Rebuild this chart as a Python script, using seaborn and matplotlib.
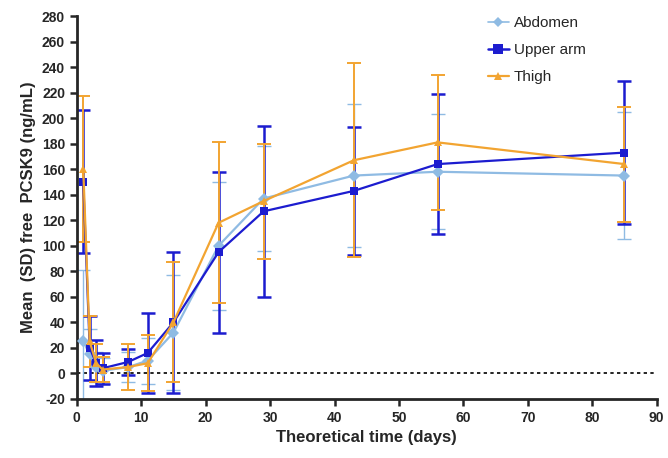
import pandas as pd
import matplotlib
matplotlib.use("Agg")
import matplotlib.pyplot as plt
import seaborn as sns

# ------------------------------------------------------------
# Data
# ------------------------------------------------------------

days = [1, 2, 3, 4, 8, 11, 15, 22, 29, 43, 56, 85]

abdomen_mean = [25, 15, 5, 2, 5, 10, 32, 100, 137, 155, 158, 155]
abdomen_sd = [56, 20, 12, 10, 12, 18, 45, 50, 41, 56, 45, 50]

upper_arm_mean = [150, 20, 8, 4, 9, 16, 40, 95, 127, 143, 164, 173]
upper_arm_sd = [56, 25, 18, 12, 10, 31, 55, 63, 67, 50, 55, 56]

thigh_mean = [160, 25, 8, 3, 5, 8, 40, 118, 135, 167, 181, 164]
thigh_sd = [57, 20, 15, 10, 18, 22, 47, 63, 45, 76, 53, 45]

sites = ["Abdomen", "Upper arm", "Thigh"]

site_colors = {
    "Abdomen": "#8fbbe3",
    "Upper arm": "#1c1ccf",
    "Thigh": "#f2a431"
}

site_markers = {
    "Abdomen": "D",
    "Upper arm": "s",
    "Thigh": "^"
}

# Build a long-form table for seaborn
df = pd.concat([
    pd.DataFrame({"day": days, "mean": abdomen_mean, "sd": abdomen_sd, "site": "Abdomen"}),
    pd.DataFrame({"day": days, "mean": upper_arm_mean, "sd": upper_arm_sd, "site": "Upper arm"}),
    pd.DataFrame({"day": days, "mean": thigh_mean, "sd": thigh_sd, "site": "Thigh"}),
])

# ------------------------------------------------------------
# Figure
# ------------------------------------------------------------

sns.set_style("ticks")
plt.rcParams["font.family"] = ["Liberation Sans", "DejaVu Sans"]
plt.rcParams["axes.unicode_minus"] = False

fig = plt.figure(figsize=(6.68, 4.58), dpi=100)
ax = fig.add_axes([0.115, 0.129, 0.868, 0.836])

# Error bars (SD)
err_width = {"Abdomen": 1.0, "Upper arm": 1.8, "Thigh": 1.4}
for site in sites:
    sub = df[df["site"] == site]
    lw = err_width[site]
    ax.errorbar(
        sub["day"], sub["mean"], yerr=sub["sd"],
        fmt="none", ecolor=site_colors[site],
        elinewidth=lw, capsize=5, capthick=lw, zorder=2
    )

# Mean lines with markers
sns.lineplot(
    data=df, x="day", y="mean",
    hue="site", style="site",
    hue_order=sites, style_order=sites,
    palette=site_colors, markers=site_markers, dashes=False,
    markersize=6, markeredgewidth=0, linewidth=1.6,
    ax=ax, zorder=3
)

# Per-site line and marker tweaks
line_style = {
    "Abdomen": (1.2, 5),
    "Upper arm": (1.8, 7),
    "Thigh": (1.6, 6)
}
for line in ax.get_lines():
    if line.get_label() in line_style:
        lw, ms = line_style[line.get_label()]
        line.set_linewidth(lw)
        line.set_markersize(ms)

# Zero reference line
ax.axhline(0, color="black", linestyle=(0, (2, 2)), linewidth=1.2, zorder=1)

# Axes
ax.set_xlim(0, 90)
ax.set_ylim(-20, 280)
ax.set_xticks(range(0, 91, 10))
ax.set_yticks(range(-20, 281, 20))

ax.set_xlabel("Theoretical time (days)", fontsize=12, fontweight="bold")
ax.set_ylabel("Mean  (SD) free  PCSK9 (ng/mL)", fontsize=12, fontweight="bold")

ax.tick_params(axis="both", direction="out", width=1.8, length=5, labelsize=10)
for label in ax.get_xticklabels() + ax.get_yticklabels():
    label.set_fontweight("bold")

for side in ["left", "bottom"]:
    ax.spines[side].set_linewidth(2)
sns.despine(ax=ax)

# Legend
handles, labels = ax.get_legend_handles_labels()
ax.legend(
    handles=handles, labels=labels,
    loc="upper left", bbox_to_anchor=(0.685, 1.035),
    frameon=False, fontsize=11, labelspacing=0.85,
    handlelength=1.4, handletextpad=0.3
)

fig.savefig("out.png", dpi=100)
